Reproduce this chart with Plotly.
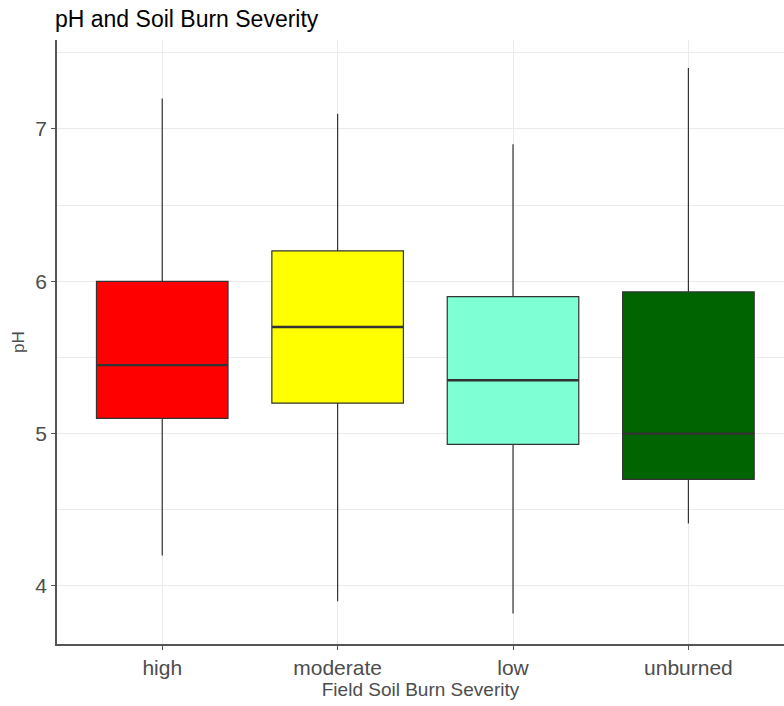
import plotly.graph_objects as go

# Box statistics per burn-severity class
categories = ["high", "moderate", "low", "unburned"]
lower_whisker = [4.2, 3.9, 3.82, 4.41]
q1 = [5.1, 5.2, 4.93, 4.7]
median = [5.45, 5.7, 5.35, 5.0]
q3 = [6.0, 6.2, 5.9, 5.93]
upper_whisker = [7.2, 7.1, 6.9, 7.4]
fill_colors = ["#FF0000", "#FFFF00", "#7FFFD4", "#006400"]

y_ticks = [4, 5, 6, 7]
y_minor = [3.5, 4.5, 5.5, 6.5, 7.5]

half_width = 0.375
edge = "#333333"

fig = go.Figure()
for i, cat in enumerate(categories):
    fig.add_trace(go.Box(
        x=[i], q1=[q1[i]], median=[median[i]], q3=[q3[i]],
        lowerfence=[lower_whisker[i]], upperfence=[upper_whisker[i]],
        width=2 * half_width, whiskerwidth=0,
        fillcolor=fill_colors[i],
        line=dict(color=edge, width=1.2),
        boxpoints=False, showlegend=False, name=cat,
    ))
    # thicker median bar, drawn over the box
    fig.add_trace(go.Scatter(
        x=[i - half_width, i + half_width], y=[median[i], median[i]],
        mode="lines", line=dict(color=edge, width=2.4),
        showlegend=False, hoverinfo="skip",
    ))

grid = "#EBEBEB"
fig.update_layout(
    width=784, height=706,
    margin=dict(l=57, r=0, t=40, b=62),
    plot_bgcolor="white", paper_bgcolor="white",
    font=dict(family="Liberation Sans, Arial, sans-serif", color="#4D4D4D"),
    title=dict(text="pH and Soil Burn Severity", x=55 / 784, xref="container",
               xanchor="left", y=1 - 19 / 706, yref="container", yanchor="middle",
               font=dict(size=23, color="black")),
    xaxis=dict(
        range=[-0.6, 3.545], tickvals=list(range(len(categories))), ticktext=categories,
        showgrid=True, gridcolor=grid, gridwidth=1, zeroline=False,
        showline=True, linecolor="#555555", linewidth=1.5,
        ticks="outside", ticklen=4, tickcolor="#555555",
        tickfont=dict(size=21, color="#4D4D4D"),
        title=dict(text="Field Soil Burn Severity", font=dict(size=19, color="#4D4D4D"), standoff=2),
    ),
    yaxis=dict(
        range=[3.619, 7.584], tickvals=y_ticks,
        showgrid=True, gridcolor=grid, gridwidth=1, zeroline=False,
        showline=True, linecolor="#555555", linewidth=1.5,
        ticks="outside", ticklen=4, tickcolor="#555555",
        tickfont=dict(size=21, color="#4D4D4D"),
        minor=dict(tickvals=y_minor, showgrid=True, gridcolor=grid, gridwidth=1, ticks=""),
        title=dict(text="pH", font=dict(size=17, color="#4D4D4D"), standoff=6),
    ),
)

fig.write_html("out.html")
